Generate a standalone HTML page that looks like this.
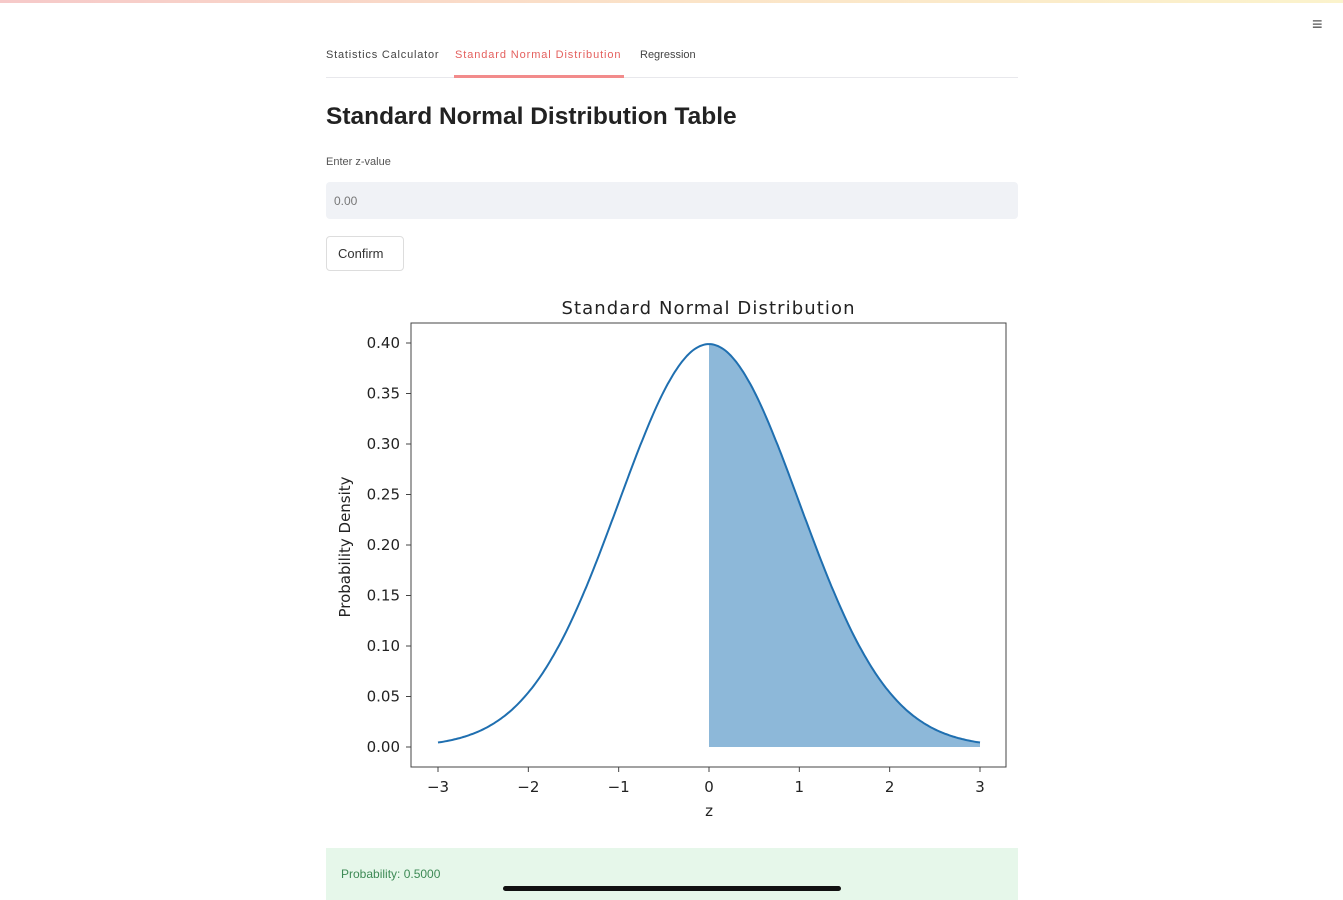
<!DOCTYPE html>
<html><head><meta charset="utf-8">
<style>
body{margin:0;width:1343px;height:900px;background:#fff;font-family:"Liberation Sans",sans-serif;overflow:hidden;position:relative}
.top{position:absolute;left:0;top:0;width:1343px;height:3px;background:linear-gradient(90deg,#f6c9c9,#fbe3c8,#fbf3cc)}
.t{position:absolute;white-space:nowrap}
</style></head><body>
<div class="top"></div>
<div class="t" style="left:1312px;top:14px;font-size:18px;color:#555">≡</div>
<div class="t" style="left:326px;top:49px;font-size:11px;color:#444;letter-spacing:0.8px">Statistics Calculator</div>
<div class="t" style="left:455px;top:49px;font-size:11px;color:#e4605e;letter-spacing:0.9px">Standard Normal Distribution</div>
<div class="t" style="left:640px;top:49px;font-size:11px;color:#444">Regression</div>
<div style="position:absolute;left:326px;top:77px;width:692px;height:1px;background:#e8e8ec"></div>
<div style="position:absolute;left:454px;top:75px;width:170px;height:3px;background:#f28b8b"></div>
<div class="t" style="left:326px;top:103px;font-size:24.5px;font-weight:bold;color:#222">Standard Normal Distribution Table</div>
<div class="t" style="left:326px;top:156px;font-size:11px;color:#555">Enter z-value</div>
<div style="position:absolute;left:326px;top:182px;width:692px;height:37px;background:#f0f2f6;border-radius:4px"></div>
<div class="t" style="left:334px;top:194px;font-size:12px;color:#777">0.00</div>
<div style="position:absolute;left:326px;top:236px;width:76px;height:33px;border:1px solid #ddd;border-radius:4px"></div>
<div class="t" style="left:338px;top:246px;font-size:13px;color:#333">Confirm</div>
<svg style="position:absolute;left:0;top:0" width="1343" height="900" font-family="DejaVu Sans, sans-serif">
<text x="708" y="314" font-size="18" text-anchor="middle" fill="#222" textLength="293">Standard Normal Distribution</text>
<path id="fill" fill="#8db8d9"/>
<path id="curve" fill="none" stroke="#1f6fb0" stroke-width="2"/>
<rect x="411" y="323" width="595" height="444" fill="none" stroke="#444" stroke-width="1"/>
<g id="ticks" font-size="15" fill="#222"></g>
<text x="709" y="816" font-size="15" text-anchor="middle" fill="#222">z</text>
<text transform="translate(350,547) rotate(-90)" font-size="15" text-anchor="middle" fill="#222">Probability Density</text>
</svg>
<div style="position:absolute;left:326px;top:848px;width:692px;height:52px;background:#e6f7ea"></div>
<div class="t" style="left:341px;top:867px;font-size:12px;color:#3d8a55">Probability: 0.5000</div>
<div style="position:absolute;left:503px;top:886px;width:338px;height:5px;background:#111;border-radius:3px"></div>
<script>
var X=function(z){return 709+z*90.33},Y=function(p){return 747-p*1010};
var f=function(z){return Math.exp(-z*z/2)/Math.sqrt(2*Math.PI)};
var d="",fd="M709,747";
for(var i=0;i<=300;i++){var z=-3+6*i/300;d+=(i?"L":"M")+X(z).toFixed(1)+","+Y(f(z)).toFixed(1);if(z>=0)fd+="L"+X(z).toFixed(1)+","+Y(f(z)).toFixed(1);}
fd+="L"+X(3)+",747Z";
document.getElementById("curve").setAttribute("d",d);
document.getElementById("fill").setAttribute("d",fd);
var g=document.getElementById("ticks"),s="";
for(var k=-3;k<=3;k++){var x=X(k);s+='<line x1="'+x+'" y1="767" x2="'+x+'" y2="772" stroke="#444"/><text x="'+x+'" y="792" text-anchor="middle">'+(k<0?"\u2212"+(-k):k)+'</text>';}
for(var j=0;j<=8;j++){var p=j*0.05,y=Y(p);s+='<line x1="406" y1="'+y+'" x2="411" y2="'+y+'" stroke="#444"/><text x="400" y="'+(y+5)+'" text-anchor="end">'+p.toFixed(2)+'</text>';}
g.innerHTML=s;
</script>
</body></html>
